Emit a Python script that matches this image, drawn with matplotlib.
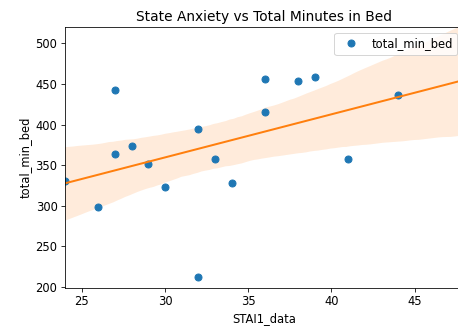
import matplotlib
matplotlib.use("Agg")
import matplotlib.pyplot as plt
import numpy as np
import seaborn as sns

# values
stai1_data = [24, 26, 27, 27, 28, 29, 30, 32, 32, 33, 34, 36, 36, 38, 39, 41, 44]
total_min_bed = [331, 298, 442, 364, 373, 352, 323, 395, 213, 358, 328, 416, 456, 454, 459, 358, 436]

plt.rcParams["font.size"] = 11.5
plt.rcParams["xtick.major.size"] = 4
plt.rcParams["ytick.major.size"] = 4

fig = plt.figure(figsize=(458 / 72, 331 / 72), dpi=72)
# axes runs a bit past the right edge, as in the reference
ax = fig.add_axes([65 / 458, 43.5 / 331, 398 / 458, 260.5 / 331])

xlim = (24, 47.9)
ylim = (199.5, 520)

ax.plot(stai1_data, total_min_bed, "o", color="C0", ms=7, label="total_min_bed")
ax.set_xlim(*xlim)
ax.set_ylim(*ylim)
sns.regplot(x=np.array(stai1_data), y=np.array(total_min_bed), scatter=False,
            truncate=False, color="C1", seed=3, ax=ax, line_kws={"lw": 2})
ax.set_xlim(*xlim)
ax.set_ylim(*ylim)

ax.set_title("State Anxiety vs Total Minutes in Bed", fontsize=13.8)
ax.set_xlabel("STAI1_data")
ax.set_ylabel("total_min_bed")
ax.legend(loc="upper right")

fig.savefig("out.png", dpi=72)
